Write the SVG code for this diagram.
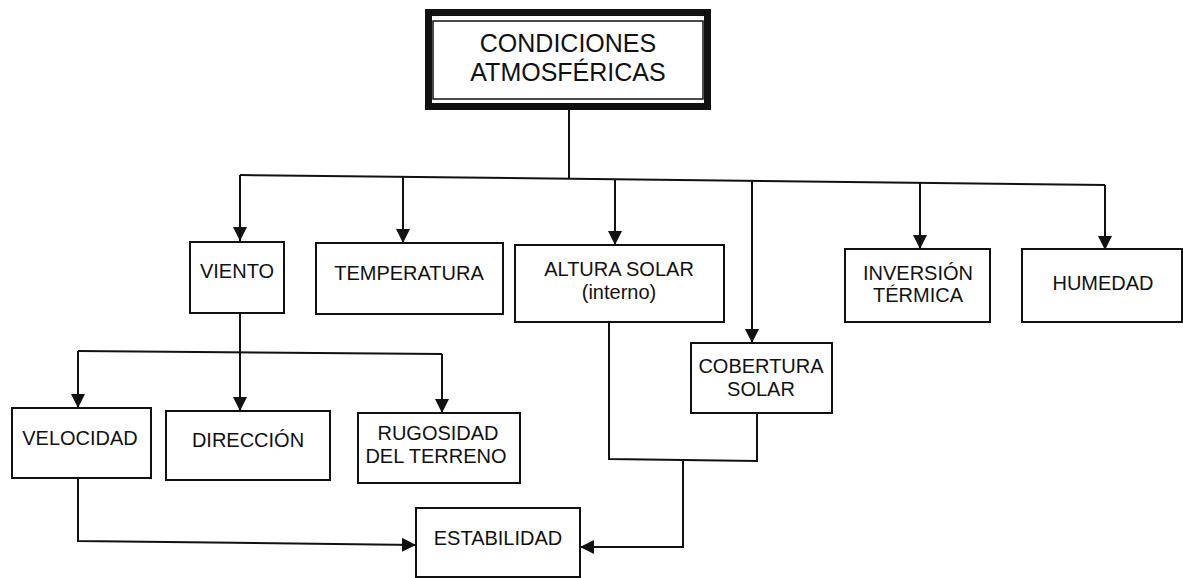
<svg xmlns="http://www.w3.org/2000/svg" width="1183" height="578" viewBox="0 0 1183 578">
<style>
.box{fill:#fff;stroke:#111;stroke-width:2}
.t{font-family:"Liberation Sans",Arial,sans-serif;font-size:20px;fill:#111;text-anchor:middle}
.tt{font-family:"Liberation Sans",Arial,sans-serif;font-size:25px;fill:#111;text-anchor:middle}
.c{fill:none;stroke:#111;stroke-width:2}
</style>
<defs>
<marker id="ah" markerUnits="userSpaceOnUse" markerWidth="14" markerHeight="14" refX="14" refY="7" orient="auto">
<path d="M0,0 L14,7 L0,14 Z" fill="#111"/>
</marker>
</defs>
<rect width="1183" height="578" fill="#fff"/>
<g id="connectors">
<line class="c" x1="569" y1="110" x2="569" y2="178.8"/>
<line class="c" x1="240" y1="175" x2="1105" y2="185"/>
<line class="c" x1="240" y1="175" x2="240" y2="241" marker-end="url(#ah)"/>
<line class="c" x1="403" y1="176.9" x2="403" y2="243" marker-end="url(#ah)"/>
<line class="c" x1="615" y1="179.3" x2="615" y2="245" marker-end="url(#ah)"/>
<line class="c" x1="752" y1="180.9" x2="752" y2="343" marker-end="url(#ah)"/>
<line class="c" x1="920" y1="182.9" x2="920" y2="249" marker-end="url(#ah)"/>
<line class="c" x1="1105" y1="185" x2="1105" y2="250" marker-end="url(#ah)"/>
<line class="c" x1="240" y1="313" x2="240" y2="411" marker-end="url(#ah)"/>
<line class="c" x1="78" y1="351" x2="442" y2="354"/>
<line class="c" x1="78" y1="351" x2="78" y2="408" marker-end="url(#ah)"/>
<line class="c" x1="442" y1="354" x2="442" y2="413" marker-end="url(#ah)"/>
<polyline class="c" points="78,478 78,541 416,545" marker-end="url(#ah)"/>
<polyline class="c" points="609,322 609,459 757,461 757,413"/>
<polyline class="c" points="683,460 683,547 580,547" marker-end="url(#ah)"/>
</g>
<g id="title">
<rect x="428.5" y="12.5" width="279" height="94" fill="#fff" stroke="#111" stroke-width="7"/>
<rect x="433" y="21" width="270" height="78" fill="none" stroke="#111" stroke-width="1.5"/>
<text class="tt" x="568" y="52">CONDICIONES</text>
<text class="tt" x="568" y="81">ATMOSFÉRICAS</text>
</g>
<g id="viento">
<rect class="box" x="190" y="242" width="94" height="71"/>
<text class="t" x="237" y="278">VIENTO</text>
</g>
<g id="temperatura">
<rect class="box" x="316" y="243" width="187" height="71"/>
<text class="t" x="409" y="280">TEMPERATURA</text>
</g>
<g id="altura">
<rect class="box" x="515" y="245" width="209" height="77"/>
<text class="t" x="619" y="276">ALTURA SOLAR</text>
<text class="t" x="619" y="299">(interno)</text>
</g>
<g id="cobertura">
<rect class="box" x="691" y="343" width="141" height="70"/>
<text class="t" x="761" y="373">COBERTURA</text>
<text class="t" x="761" y="396">SOLAR</text>
</g>
<g id="inversion">
<rect class="box" x="845" y="249" width="145" height="73"/>
<text class="t" x="918" y="280">INVERSIÓN</text>
<text class="t" x="918" y="302">TÉRMICA</text>
</g>
<g id="humedad">
<rect class="box" x="1022" y="249" width="160" height="73"/>
<text class="t" x="1103" y="290">HUMEDAD</text>
</g>
<g id="velocidad">
<rect class="box" x="12" y="408" width="139" height="70"/>
<text class="t" x="80" y="445">VELOCIDAD</text>
</g>
<g id="direccion">
<rect class="box" x="166" y="411" width="164" height="69"/>
<text class="t" x="248" y="447">DIRECCIÓN</text>
</g>
<g id="rugosidad">
<rect class="box" x="358" y="413" width="162" height="70"/>
<text class="t" x="438" y="440">RUGOSIDAD</text>
<text class="t" x="436" y="463">DEL TERRENO</text>
</g>
<g id="estabilidad">
<rect class="box" x="416" y="508" width="164" height="69"/>
<text class="t" x="498" y="545">ESTABILIDAD</text>
</g>
</svg>
